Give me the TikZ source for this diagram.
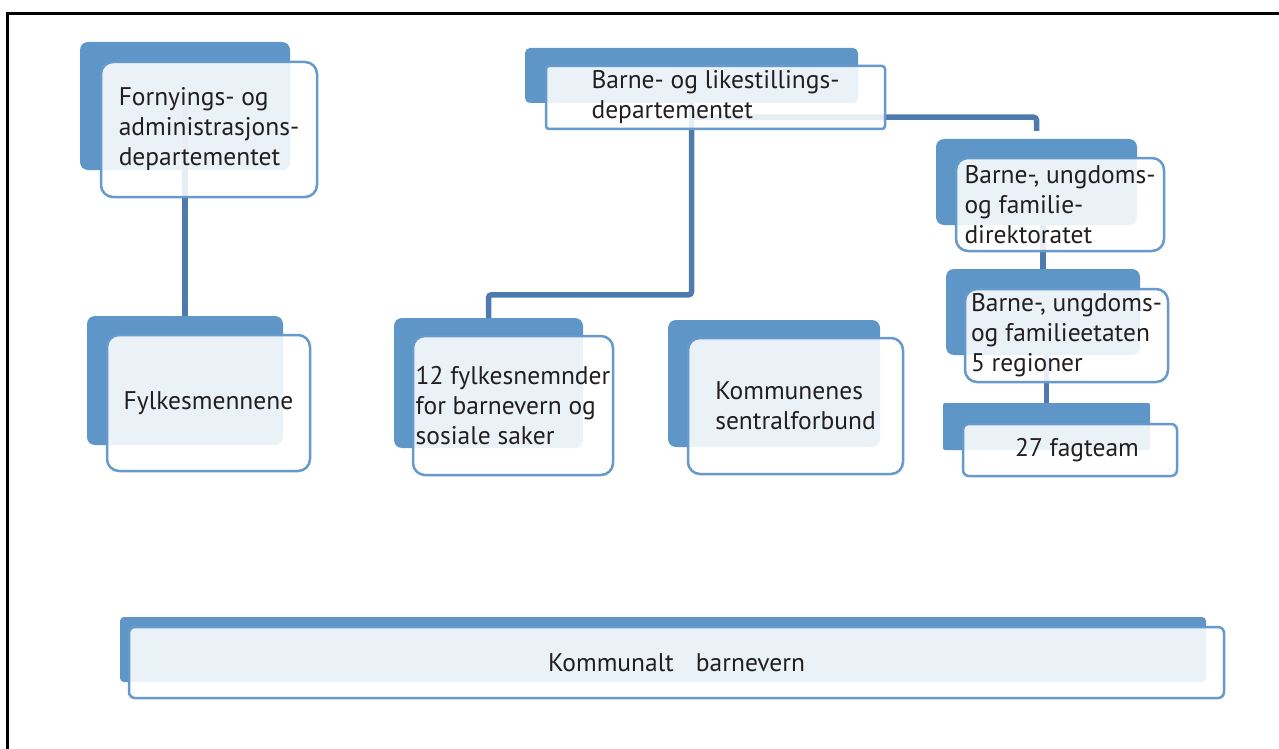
\documentclass[tikz,border=0pt]{standalone}
\usepackage{fontspec}
\setmainfont{PT Sans}
\usetikzlibrary{positioning}

\definecolor{backblue}{RGB}{95,150,200}
\definecolor{edgeblue}{RGB}{102,153,204}
\definecolor{linkblue}{RGB}{78,122,173}
\definecolor{inkgray}{RGB}{35,31,32}

\begin{document}
\begin{tikzpicture}[x=1pt, y=-1pt,
  every node/.style={font={\fontsize{25.5}{30}\selectfont}, text=inkgray},
  backbox/.style={rectangle, fill=backblue, rounded corners=8pt, inner sep=0pt},
  frontbox/.style={rectangle, draw=edgeblue, line width=2.5pt, fill=white,
    fill opacity=0.87, text opacity=1, rounded corners=12pt, align=left,
    inner sep=0pt},
  conn/.style={draw=linkblue, line width=5.5pt, rounded corners=3pt}]

\useasboundingbox (0,0) rectangle (1279,749);
\draw[line width=3pt] (7.5,749) -- (7.5,13.5) -- (1279,13.5);

% back plates
\node[backbox, minimum width=210pt, minimum height=128pt] (fadb) at (185,106) {};
\node[backbox, minimum width=333pt, minimum height=55pt, rounded corners=5pt] (bldb) at (691.5,75.5) {};
\node[backbox, minimum width=196pt, minimum height=129pt] (fylkb) at (185,380.5) {};
\node[backbox, minimum width=189pt, minimum height=130pt] (nemndb) at (488.5,383) {};
\node[backbox, minimum width=212pt, minimum height=127pt] (ksb) at (774,383.5) {};
\node[backbox, minimum width=201pt, minimum height=86pt] (bufdirb) at (1036.5,182) {};
\node[backbox, minimum width=194pt, minimum height=86pt] (bufetatb) at (1043,312) {};
\node[backbox, minimum width=207pt, minimum height=47pt, rounded corners=2pt] (fagteamb) at (1046.5,426.5) {};
\node[backbox, minimum width=1086pt, minimum height=65pt, rounded corners=4pt] (kbvb) at (663,649.5) {};

% connectors
\draw[conn] (fadb.center) -- (fylkb.north);
\draw[conn] (bldb.south) |- ([yshift=23pt]nemndb.north) -- (nemndb.north);
\draw[conn] ([yshift=-14pt]bldb.south) -| ([yshift=8pt]bufdirb.north);
\draw[conn] (bufdirb.south -| bufetatb.north) -- (bufetatb.north);
\draw[conn] (bufetatb.south -| fagteamb.north) -- (fagteamb.north);

% front panels
\node[frontbox, minimum width=216pt, minimum height=135pt] (fad) at (209,129.5)
  {Fornyings- og\\administrasjons-\\departementet};
\node[frontbox, minimum width=339pt, minimum height=63pt, rounded corners=3pt] (bld) at (715.5,97.5)
  {Barne- og likestillings-\\departementet};
\node[frontbox, minimum width=203pt, minimum height=136pt] (fylk) at (208.5,403)
  {Fylkesmennene};
\node[frontbox, minimum width=200pt, minimum height=139pt] (nemnd) at (513,405.5)
  {12 fylkesnemnder\\for barnevern og\\sosiale saker};
\node[frontbox, minimum width=215pt, minimum height=136pt] (ks) at (795.5,406)
  {Kommunenes\\sentralforbund};
\node[frontbox, minimum width=208pt, minimum height=93pt] (bufdir) at (1060,204.5)
  {Barne-, ungdoms-\\og familie-\\direktoratet};
\node[frontbox, minimum width=203pt, minimum height=93pt] (bufetat) at (1066.5,335.5)
  {Barne-, ungdoms-\\og familieetaten\\5 regioner};
\node[frontbox, minimum width=214pt, minimum height=52pt, rounded corners=6pt] (fagteam) at (1070,450)
  {\hspace*{14pt}27 fagteam};
\node[frontbox, minimum width=1095pt, minimum height=71pt, rounded corners=6pt] (kbv) at (676.5,662.5)
  {Kommunalt\hspace{0.6em} barnevern};

\end{tikzpicture}
\end{document}
